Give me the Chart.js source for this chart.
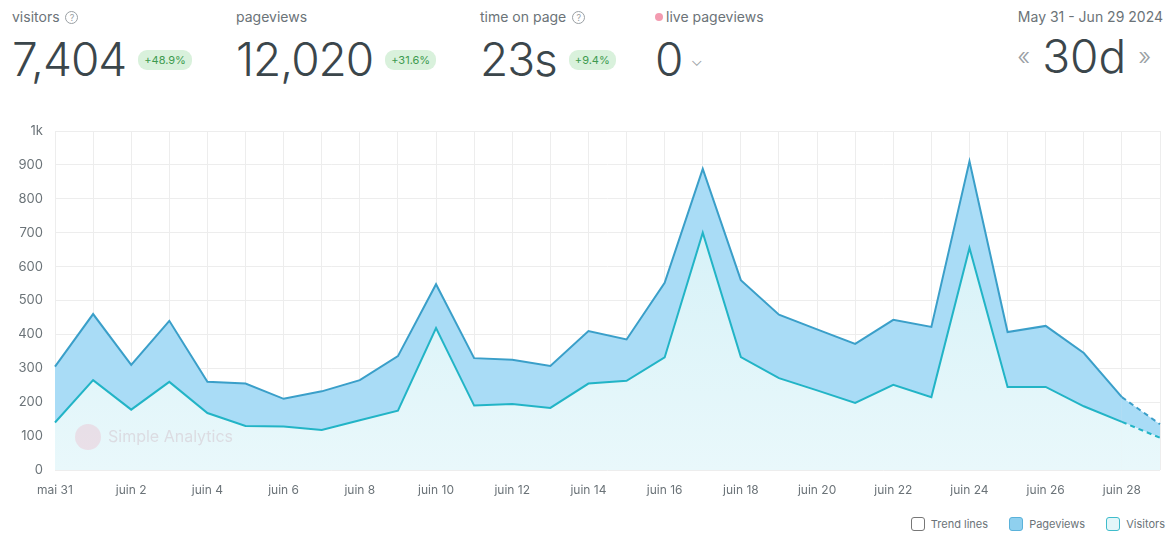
<!DOCTYPE html>
<html>
<head>
<meta charset="utf-8">
<script src="https://cdn.jsdelivr.net/npm/chart.js@4/dist/chart.umd.min.js"></script>
<style>
	body { margin: 0; width: 1173px; height: 535px; background: #fff; font-family: Inter, "Noto Sans", sans-serif; color: #3b464b; position: relative; overflow: hidden; }
	.stat { position: absolute; top: 8px; }
	.stat .label { font-size: 14px; color: #6b7378; height: 20px; }
	.stat .help { display: inline-block; width: 11px; height: 11px; border: 1px solid #9aa0a4; border-radius: 50%; font-size: 9px; line-height: 11px; text-align: center; color: #9aa0a4; vertical-align: 1px; margin-left: 2px; }
	.stat .value { font-size: 46px; font-weight: 300; letter-spacing: -1px; line-height: 56px; margin-top: 3px; white-space: nowrap; }
	.badge { display: inline-block; font-size: 11px; line-height: 14px; color: #3d9a4f; background: #d9f1dc; border-radius: 9px; padding: 3px 6px; vertical-align: 12px; margin-left: 12px; letter-spacing: 0; font-weight: 400; }
	.dot { display: inline-block; width: 8px; height: 8px; background: #f39bb0; border-radius: 50%; margin-right: 3px; vertical-align: 1px; }
	.chev { font-size: 16px; color: #9aa0a4; vertical-align: 10px; margin-left: 8px; }
	#range { position: absolute; right: 10px; top: 8px; text-align: right; }
	#range .label { font-size: 14px; color: #6b7378; }
	#range .value { font-size: 46px; font-weight: 300; line-height: 56px; margin-top: 3px; }
	#range .arr { font-size: 24px; color: #9aa0a4; vertical-align: 8px; margin: 0 12px; }
	#chartBox { position: absolute; left: 0; top: 110px; width: 1173px; height: 400px; }
	#mark { position: absolute; left: 75px; top: 424px; font-size: 16px; color: rgba(200, 170, 180, 0.35); }
	#mark .logo { display: inline-block; width: 26px; height: 26px; border-radius: 50%; background: rgba(240, 170, 190, 0.3); vertical-align: -8px; margin-right: 7px; }
	#legend { position: absolute; right: 8px; top: 517px; font-size: 11px; color: #6b7378; }
	#legend span { margin-left: 18px; }
	#legend i { display: inline-block; width: 12px; height: 12px; border: 1px solid #777; border-radius: 3px; vertical-align: -3px; margin-right: 6px; }
</style>
</head>
<body>
	<div class="stat" style="left:12px">
		<div class="label">visitors <span class="help">?</span></div>
		<div class="value">7,404<span class="badge">+48.9%</span></div>
	</div>
	<div class="stat" style="left:236px">
		<div class="label">pageviews</div>
		<div class="value">12,020<span class="badge">+31.6%</span></div>
	</div>
	<div class="stat" style="left:480px">
		<div class="label">time on page <span class="help">?</span></div>
		<div class="value">23s<span class="badge">+9.4%</span></div>
	</div>
	<div class="stat" style="left:655px">
		<div class="label"><span class="dot"></span>live pageviews</div>
		<div class="value">0<span class="chev">&#8964;</span></div>
	</div>
	<div id="range">
		<div class="label">May 31 - Jun 29 2024</div>
		<div class="value"><span class="arr">&laquo;</span>30d<span class="arr">&raquo;</span></div>
	</div>

	<div id="chartBox"><canvas id="chartViews"></canvas></div>
	<div id="mark"><span class="logo"></span>Simple Analytics</div>

	<div id="legend">
		<span><i></i>Trend lines</span>
		<span><i style="background:#8fd0ef;border-color:#5ab2da"></i>Pageviews</span>
		<span><i style="background:#e3f6f9;border-color:#3fbccb"></i>Visitors</span>
	</div>

<script>
// Données (30 jours)
var days = ["mai 31", "juin 1", "juin 2", "juin 3", "juin 4", "juin 5", "juin 6", "juin 7", "juin 8", "juin 9",
	"juin 10", "juin 11", "juin 12", "juin 13", "juin 14", "juin 15", "juin 16", "juin 17", "juin 18", "juin 19",
	"juin 20", "juin 21", "juin 22", "juin 23", "juin 24", "juin 25", "juin 26", "juin 27", "juin 28", "juin 29"];
var pageviews = [305, 460, 310, 440, 260, 255, 210, 232, 265, 336,
	548, 330, 325, 307, 410, 385, 552, 888, 560, 458,
	415, 372, 443, 422, 911, 407, 425, 345, 215, 135];
var visitors = [140, 265, 178, 260, 168, 130, 128, 118, 147, 175,
	419, 190, 195, 183, 255, 263, 332, 700, 333, 271,
	235, 198, 251, 215, 655, 245, 245, 188, 142, 95];
var yTicks = [0, 100, 200, 300, 400, 500, 600, 700, 800, 900, 1000];

var lastIndex = days.length - 1;

// dernier jour pas encore fini => pointillés
function dashLast(ctx) {
	return ctx.p1DataIndex === lastIndex ? [5, 4] : undefined;
}

function visitorsFill(context) {
	var chart = context.chart;
	var area = chart.chartArea;
	if (!area) return "#e0f5f9";
	var g = chart.ctx.createLinearGradient(0, area.top, 0, area.bottom);
	g.addColorStop(0, "#cfeff6");
	g.addColorStop(1, "#e9f8fb");
	return g;
}

var ctxViews = document.getElementById("chartViews");
var chartViews = new Chart(ctxViews, {
	type: 'line',
	data: {
		labels: days,
		datasets: [
			{
				label: "Visitors",
				data: visitors,
				borderColor: "#22b4c6",
				borderWidth: 2,
				backgroundColor: visitorsFill,
				fill: 'origin',
				pointRadius: 0,
				tension: 0,
				segment: { borderDash: dashLast }
			},
			{
				label: "Pageviews",
				data: pageviews,
				borderColor: "#3a9fc9",
				borderWidth: 2,
				backgroundColor: "#a9dcf6",
				fill: 0,
				pointRadius: 0,
				tension: 0,
				segment: { borderDash: dashLast }
			}
		]
	},
	options: {
		responsive: true,
		maintainAspectRatio: false,
		animation: false,
		layout: { padding: { top: 21, right: 2, left: 0, bottom: 0 } },
		plugins: {
			legend: { display: false },
			tooltip: { enabled: false }
		},
		scales: {
			x: {
				offset: false,
				grid: { color: "#ededed", drawTicks: false },
				border: { display: false },
				ticks: {
					autoSkip: false,
					maxRotation: 0,
					padding: 13,
					color: "#6b7378",
					font: { size: 12, family: "Inter" },
					callback: function(value, index) {
						return index % 2 === 0 ? days[index] : "";
					}
				},
				afterFit: function(scale) { scale.height = 40; }
			},
			y: {
				min: 0,
				max: 1000,
				grid: { color: "#ededed", drawTicks: false },
				border: { display: false },
				afterBuildTicks: function(scale) {
					scale.ticks = yTicks.map(function(v) { return { value: v }; });
				},
				ticks: {
					padding: 12,
					color: "#6b7378",
					font: { size: 13, family: "Inter" },
					callback: function(value) {
						return value === 1000 ? "1k" : value;
					}
				},
				afterFit: function(scale) { scale.width = 55; }
			}
		}
	}
});
</script>
</body>
</html>
